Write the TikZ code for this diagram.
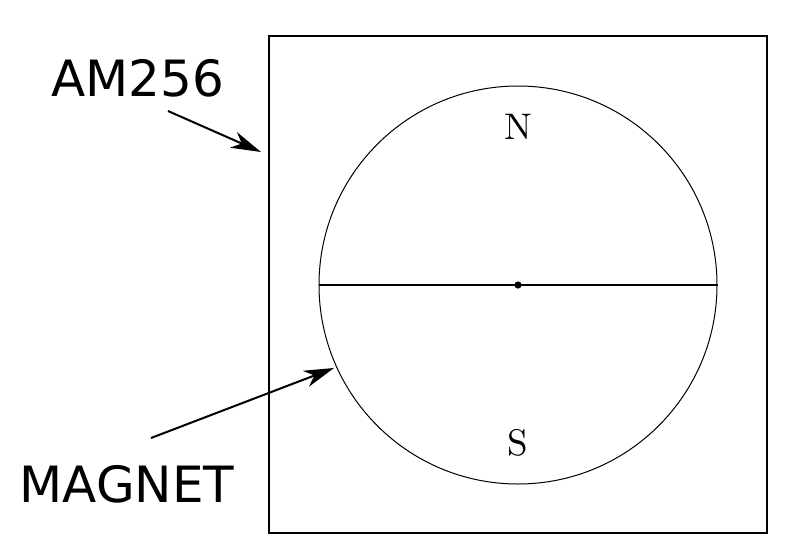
\documentclass[tikz,border=0pt]{standalone}
\usepackage{fontspec}
\newfontfamily\labelfont{DejaVu Sans}
\newfontfamily\polefont{lmroman10-regular}[Extension=.otf]
\usetikzlibrary{arrows.meta}
\begin{document}
\begin{tikzpicture}[x=1pt,y=-1pt,
  pointer/.style={line width=2pt,-{Stealth[length=30pt,width=17pt,inset=9pt]}},
  biglabel/.style={font=\labelfont\fontsize{50}{54}\selectfont,inner sep=0pt},
  pole/.style={font=\polefont\fontsize{37}{40}\selectfont,inner sep=0pt}]
\useasboundingbox (0,0) rectangle (801,558);
\node[draw,line width=1.2pt,minimum width=498pt,minimum height=497pt,inner sep=0pt] (box) at (518,284.5) {};
\node[draw,circle,line width=1pt,minimum size=398pt,inner sep=0pt] (mag) at (518,285) {};
\draw[line width=1.3pt] (mag.west) -- (mag.east);
\fill (mag.center) circle (3.6pt);
\node[pole] (N) at (518,127) {N};
\node[pole] (S) at (518,443) {S};
\node[biglabel] (am) at (137.5,78) {AM256};
\node[biglabel] (mg) at (127,484) {MAGNET};
\coordinate (amtail) at (168,111);
\coordinate (amtip) at (261,152);
\coordinate (mgtail) at (151,438);
\coordinate (mgtip) at (334,368);
\draw[pointer] (amtail) -- (amtip);
\draw[pointer] (mgtail) -- (mgtip);
\end{tikzpicture}
\end{document}
